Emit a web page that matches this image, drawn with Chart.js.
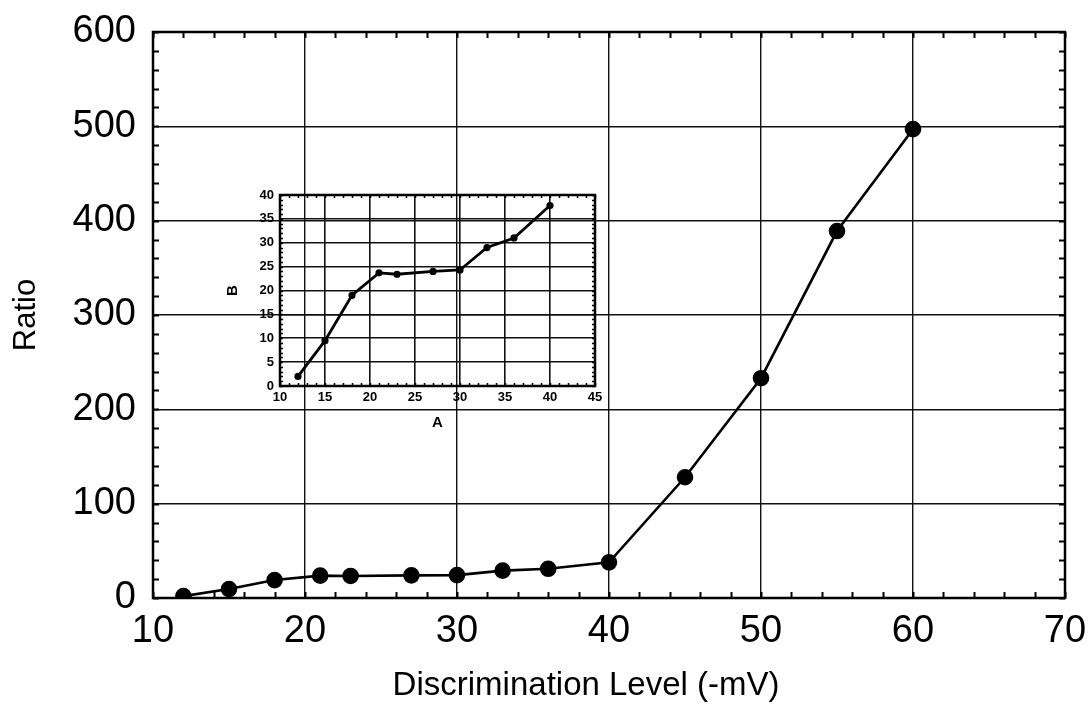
<html>
<head>
<meta http-equiv="content-type" content="text/html; charset=UTF-8" />
<script src="https://cdn.jsdelivr.net/npm/chart.js@4.4.0/dist/chart.umd.min.js"></script>
<style>
  body { margin: 0; background: #fff; }
  #wrap { position: relative; width: 1090px; height: 706px; }
  #mainChart { position: absolute; left: 0; top: 0; }
  #insetChart { position: absolute; left: 220px; top: 180px; }
</style>
</head>
<body>
<div id="wrap">
  <canvas id="mainChart" width="1090" height="706"></canvas>
  <canvas id="insetChart" width="390" height="260"></canvas>
</div>
<script>
// discrimination level (-mV) and measured ratio
var levels = [12, 15, 18, 21, 23, 27, 30, 33, 36, 40, 45, 50, 55, 60];
var ratios = [2, 9.5, 19, 23.7, 23.4, 24, 24.3, 29, 31, 37.8, 128, 233, 389, 497];
// inset only shows the low range (up to 40)
var insetCount = 10;

var mainXTicks = [10, 20, 30, 40, 50, 60, 70];
var mainYTicks = [0, 100, 200, 300, 400, 500, 600];
var insetXTicks = [10, 15, 20, 25, 30, 35, 40, 45];
var insetYTicks = [0, 5, 10, 15, 20, 25, 30, 35, 40];

var FONT = "'Liberation Sans', Arial, Helvetica, sans-serif";

function toPoints(xs, ys, n) {
  var pts = [];
  for (var i = 0; i < n; i++) pts.push({x: xs[i], y: ys[i]});
  return pts;
}

// frame + small inward ticks on all four sides
var frameTicks = {
  id: 'frameTicks',
  afterDraw: function(chart, args, opts) {
    var ctx = chart.ctx, a = chart.chartArea;
    var sx = chart.scales.x, sy = chart.scales.y;
    ctx.save();
    ctx.strokeStyle = '#000';
    ctx.lineWidth = opts.tickWidth || 1.5;
    ctx.beginPath();
    for (var v = sx.min; v <= sx.max + 1e-9; v += opts.xStep) {
      var px = Math.round(sx.getPixelForValue(v)) + 0.5;
      ctx.moveTo(px, a.bottom); ctx.lineTo(px, a.bottom - opts.len);
      ctx.moveTo(px, a.top); ctx.lineTo(px, a.top + opts.len);
    }
    for (var w = sy.min; w <= sy.max + 1e-9; w += opts.yStep) {
      var py = Math.round(sy.getPixelForValue(w)) + 0.5;
      ctx.moveTo(a.left, py); ctx.lineTo(a.left + opts.len, py);
      ctx.moveTo(a.right, py); ctx.lineTo(a.right - opts.len, py);
    }
    ctx.stroke();
    ctx.lineWidth = opts.frameWidth;
    ctx.strokeRect(a.left, a.top, a.right - a.left, a.bottom - a.top);
    ctx.restore();
  }
};

function fixedTicks(list) {
  return function(scale) {
    scale.ticks = list.map(function(v) { return {value: v}; });
  };
}

// fixed axis box sizes, label overhang handled by layout padding
function fitX(h) {
  return function(s) { s.height = h; s.paddingLeft = 0; s.paddingRight = 0; };
}
function fitY(w) {
  return function(s) { s.width = w; s.paddingTop = 0; s.paddingBottom = 0; };
}

new Chart(document.getElementById('mainChart'), {
  type: 'scatter',
  data: {
    datasets: [{
      data: toPoints(levels, ratios, levels.length),
      showLine: true,
      borderColor: '#000',
      backgroundColor: '#000',
      borderWidth: 2.6,
      pointRadius: 7,
      pointHoverRadius: 7
    }]
  },
  options: {
    responsive: false,
    animation: false,
    layout: {padding: {left: 0, right: 25, top: 32, bottom: 0}},
    plugins: {
      legend: {display: false},
      tooltip: {enabled: false},
      frameTicks: {xStep: 2, yStep: 20, len: 6, frameWidth: 2.5, tickWidth: 2}
    },
    scales: {
      x: {
        type: 'linear', min: 10, max: 70,
        afterBuildTicks: fixedTicks(mainXTicks),
        afterFit: fitX(108),
        grid: {color: '#111', lineWidth: 1.4, drawTicks: false},
        border: {display: false},
        ticks: {color: '#000', font: {family: FONT, size: 38}, padding: 11},
        // trailing spaces nudge the centred title a little to the left
        title: {display: true, text: 'Discrimination Level (-mV)     ', color: '#000',
                font: {family: FONT, size: 33}, padding: {top: 0, bottom: 0}}
      },
      y: {
        type: 'linear', min: 0, max: 600,
        afterBuildTicks: fixedTicks(mainYTicks),
        afterFit: fitY(153),
        grid: {color: '#111', lineWidth: 1.4, drawTicks: false},
        border: {display: false},
        ticks: {color: '#000', font: {family: FONT, size: 38}, padding: 17},
        title: {display: true, text: 'Ratio', color: '#000',
                font: {family: FONT, size: 31}, padding: {top: 8, bottom: 0}}
      }
    }
  },
  plugins: [frameTicks]
});

new Chart(document.getElementById('insetChart'), {
  type: 'scatter',
  data: {
    datasets: [{
      data: toPoints(levels, ratios, insetCount),
      showLine: true,
      borderColor: '#000',
      backgroundColor: '#000',
      borderWidth: 2.8,
      pointRadius: 2.2,
      pointHoverRadius: 2.2
    }]
  },
  options: {
    responsive: false,
    animation: false,
    layout: {padding: {left: 0, right: 15, top: 15, bottom: 0}},
    plugins: {
      legend: {display: false},
      tooltip: {enabled: false},
      frameTicks: {xStep: 1, yStep: 1, len: 3, frameWidth: 2.5, tickWidth: 1.5}
    },
    scales: {
      x: {
        type: 'linear', min: 10, max: 45,
        afterBuildTicks: fixedTicks(insetXTicks),
        afterFit: fitX(54),
        grid: {color: '#111', lineWidth: 1.6, drawTicks: false},
        border: {display: false},
        ticks: {color: '#000', font: {family: FONT, size: 13, weight: 'bold'}, padding: 4},
        title: {display: true, text: 'A', color: '#000',
                font: {family: FONT, size: 15, weight: 'bold'}, padding: {top: 0, bottom: 8}}
      },
      y: {
        type: 'linear', min: 0, max: 40,
        afterBuildTicks: fixedTicks(insetYTicks),
        afterFit: fitY(60),
        grid: {color: '#111', lineWidth: 1.6, drawTicks: false},
        border: {display: false},
        ticks: {color: '#000', font: {family: FONT, size: 13, weight: 'bold'}, padding: 6},
        title: {display: true, text: 'B', color: '#000',
                font: {family: FONT, size: 15, weight: 'bold'}, padding: {top: 4, bottom: 0}}
      }
    }
  },
  plugins: [frameTicks]
});
</script>
</body>
</html>
